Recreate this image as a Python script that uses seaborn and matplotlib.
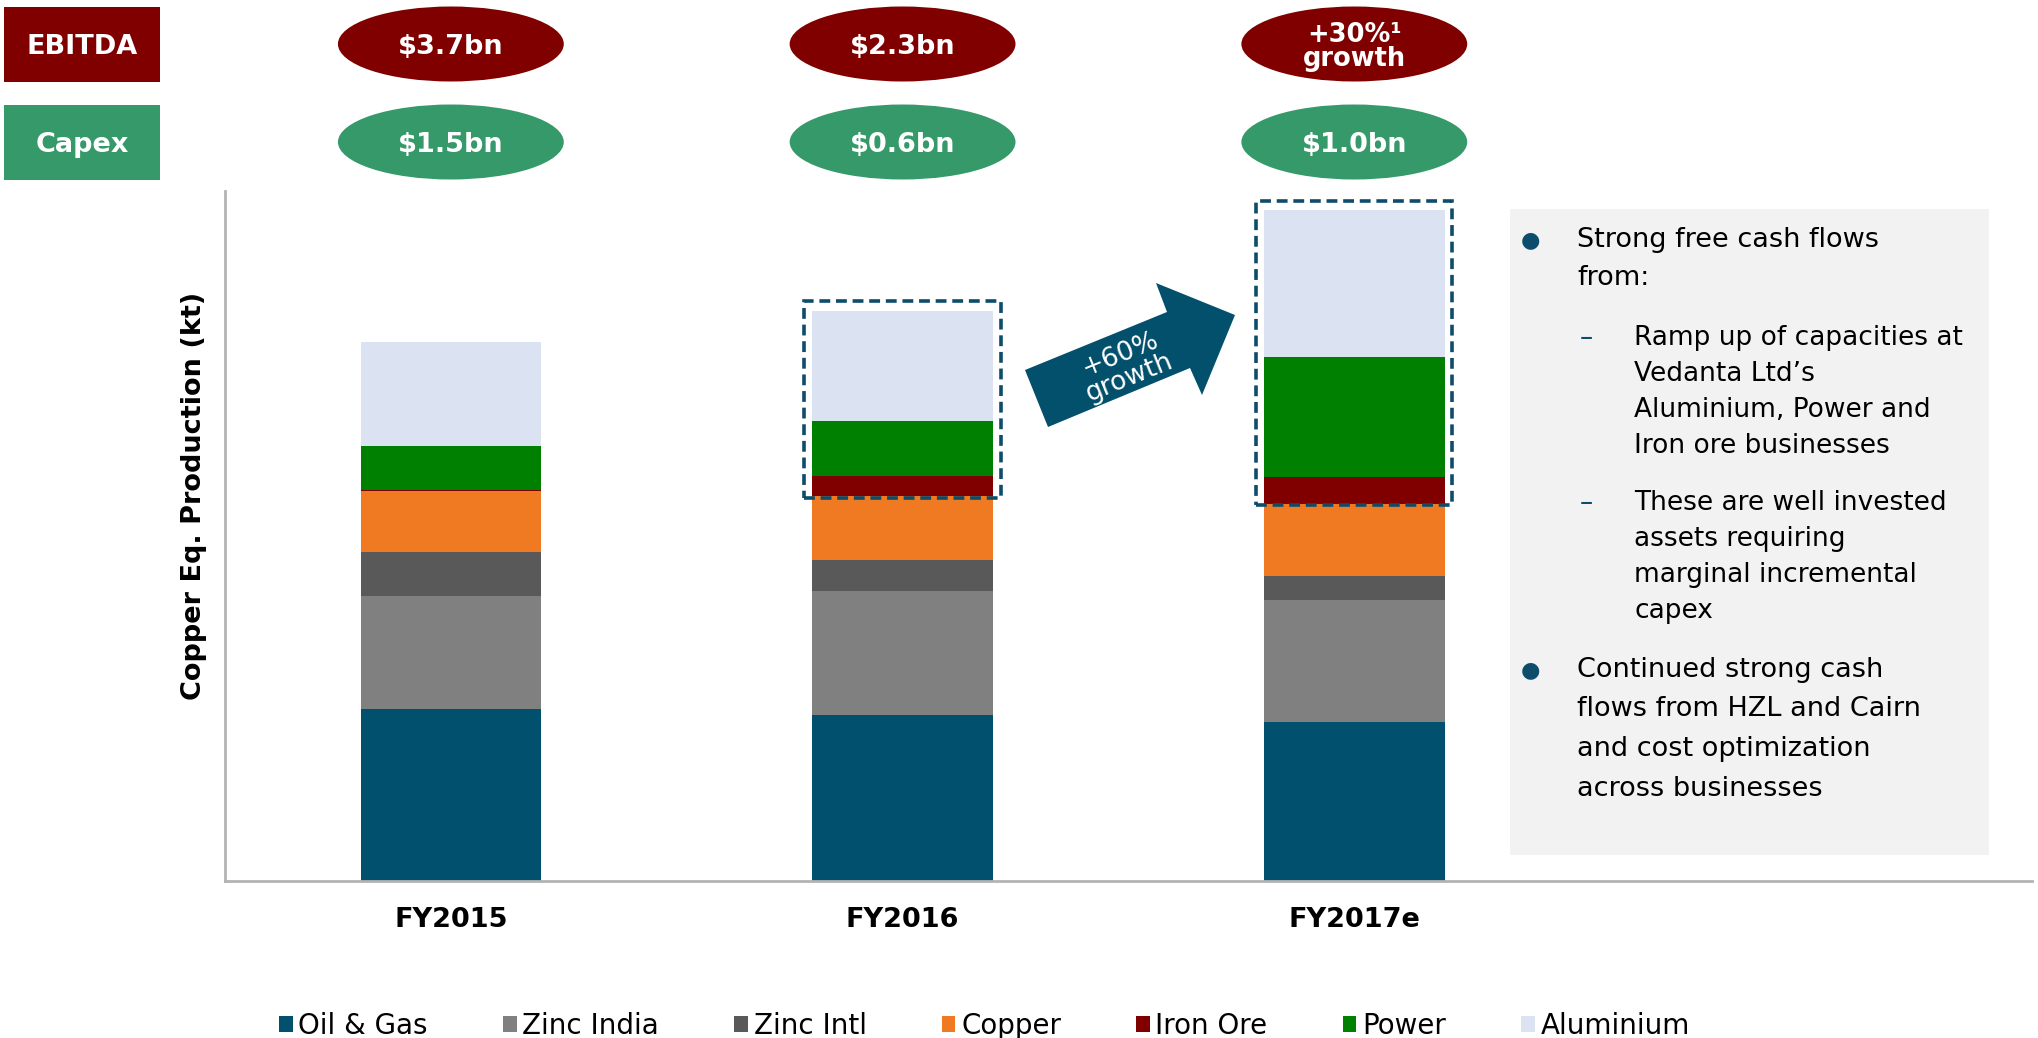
import matplotlib
matplotlib.use("Agg")
import matplotlib.pyplot as plt
import matplotlib.transforms as mtransforms
from matplotlib.patches import Ellipse, Rectangle, Polygon, Patch
import seaborn as sns
import pandas as pd

years = ["FY2015", "FY2016", "FY2017e"]
segments = ["Oil & Gas", "Zinc India", "Zinc Intl", "Copper", "Iron Ore", "Power", "Aluminium"]
oil_gas = [132, 128, 122]
zinc_india = [87, 95, 94]
zinc_intl = [34, 24, 19]
copper = [47, 49, 55]
iron_ore = [1, 16, 21]
power = [34, 42, 92]
aluminium = [80, 85, 113]
colors = ["#00506e", "#808080", "#595959", "#f07a22", "#800000", "#008000", "#dbe2f1"]

ebitda = ["$3.7bn", "$2.3bn", "+30%\u00b9\ngrowth"]
capex = ["$1.5bn", "$0.6bn", "$1.0bn"]

df = pd.DataFrame({"year": years, "Oil & Gas": oil_gas, "Zinc India": zinc_india,
                   "Zinc Intl": zinc_intl, "Copper": copper, "Iron Ore": iron_ore,
                   "Power": power, "Aluminium": aluminium})
cum = df[segments].cumsum(axis=1)

sns.set_theme(style="white")
plt.rcParams["font.family"] = ["DejaVu Sans"]
plt.rcParams["text.color"] = "black"
plt.rcParams["axes.labelcolor"] = "black"
plt.rcParams["xtick.color"] = "black"

fig = plt.figure(figsize=(20.38, 10.38), dpi=100)
ax = fig.add_axes([0.1104, 0.1513, 0.8866, 0.6647])

# stacked bars: draw cumulative totals from the top down
for seg, col in reversed(list(zip(segments, colors))):
    sns.barplot(x=df["year"], y=cum[seg], color=col, saturation=1, width=0.4,
                errorbar=None, linewidth=0, ax=ax, order=years)

ax.set_xlim(-0.5, 3.5)
ax.set_ylim(0, 531)
ax.set_yticks([])
ax.set_xlabel("")
ax.set_ylabel("Copper Eq. Production (kt)", fontsize=19.5, fontweight="bold")
ax.yaxis.set_label_coords(-0.01, 0.558)
ax.tick_params(axis="x", length=0, pad=19)
for lab in ax.get_xticklabels():
    lab.set_fontweight("bold")
    lab.set_fontsize(19.5)
sns.despine(ax=ax)
for s in ["left", "bottom"]:
    ax.spines[s].set_color("#b3b3b3")
    ax.spines[s].set_linewidth(2)

# dashed boxes around iron ore / power / aluminium growth
for i in [1, 2]:
    y0 = cum["Copper"][i] - 1
    y1 = cum["Aluminium"][i] + 7
    ax.add_patch(Rectangle((i - 0.218, y0), 0.435, y1 - y0, fill=False,
                           edgecolor="#0d4d6b", linewidth=2.6,
                           linestyle=(0, (3, 1.6)), zorder=5, clip_on=False))

# growth arrow (figure pixel geometry)
W, H = 2038, 1038
arrow_px = [(1048, 427), (1025, 370), (1167, 312), (1156, 283),
            (1235, 315), (1202, 395), (1190, 368)]
fig.patches.append(Polygon([(x / W, 1 - y / H) for x, y in arrow_px], closed=True,
                           facecolor="#02506c", edgecolor="none",
                           transform=fig.transFigure, figure=fig))
fig.text(1125 / W, 1 - 366 / H, "+60%\ngrowth", color="white", fontsize=19,
         rotation=22, ha="center", va="center", linespacing=0.95,
         rotation_mode="anchor")

# EBITDA / Capex rows
row_y = {"EBITDA": 1 - 44 / H, "Capex": 1 - 142 / H}
row_col = {"EBITDA": "#800000", "Capex": "#35996a"}
rh = 75 / H
dy = 3 / H
for name in ["EBITDA", "Capex"]:
    fig.patches.append(Rectangle((0.002, row_y[name] - rh / 2), 0.0765, rh,
                                 facecolor=row_col[name], edgecolor="none",
                                 transform=fig.transFigure, figure=fig))
    fig.text(0.002 + 0.0765 / 2, row_y[name] - dy, name, color="white", fontsize=19.5,
             fontweight="bold", ha="center", va="center")

trans = mtransforms.blended_transform_factory(ax.transData, fig.transFigure)
for name, labels in [("EBITDA", ebitda), ("Capex", capex)]:
    for i, lab in enumerate(labels):
        ax.add_patch(Ellipse((i, row_y[name]), 0.5, rh, facecolor=row_col[name],
                             edgecolor="none", transform=trans, clip_on=False))
        ax.text(i, row_y[name] - dy, lab, color="white",
                fontsize=19.5 if "\n" not in lab else 18.5,
                fontweight="bold", ha="center", va="center", transform=trans,
                linespacing=0.9)

# commentary box
fig.patches.append(Rectangle((0.741, 0.176), 0.235, 0.623, facecolor="#f2f2f2",
                             edgecolor="none", transform=fig.transFigure, figure=fig))
bullet_col = "#0d4d6b"
main_fs = 19.5
sub_fs = 19
fig.text(1530 / W, 1 - 240 / H, "\u25cf", color=bullet_col, fontsize=16, ha="center", va="center")
for k, line in enumerate(["Strong free cash flows", "from:"]):
    fig.text(1577 / W, 1 - (240 + 38 * k) / H, line, fontsize=main_fs, va="center")
fig.text(1586 / W, 1 - 338 / H, "\u2013", color=bullet_col, fontsize=sub_fs, ha="center", va="center")
for k, line in enumerate(["Ramp up of capacities at", "Vedanta Ltd\u2019s",
                          "Aluminium, Power and", "Iron ore businesses"]):
    fig.text(1634 / W, 1 - (338 + 36 * k) / H, line, fontsize=sub_fs, va="center")
fig.text(1586 / W, 1 - 503 / H, "\u2013", color=bullet_col, fontsize=sub_fs, ha="center", va="center")
for k, line in enumerate(["These are well invested", "assets requiring",
                          "marginal incremental", "capex"]):
    fig.text(1634 / W, 1 - (503 + 36 * k) / H, line, fontsize=sub_fs, va="center")
fig.text(1530 / W, 1 - 670 / H, "\u25cf", color=bullet_col, fontsize=16, ha="center", va="center")
for k, line in enumerate(["Continued strong cash", "flows from HZL and Cairn",
                          "and cost optimization", "across businesses"]):
    fig.text(1577 / W, 1 - (670 + 39.5 * k) / H, line, fontsize=main_fs, va="center")

# legend
handles = [Patch(facecolor=c, edgecolor="none", label=s) for s, c in zip(segments, colors)]
fig.legend(handles=handles, loc="center", bbox_to_anchor=(0.483, 0.012), ncol=7,
           frameon=False, fontsize=20, handlelength=0.5, handleheight=0.5,
           handletextpad=0.2, columnspacing=2.7)

fig.savefig("out.png", dpi=100)
